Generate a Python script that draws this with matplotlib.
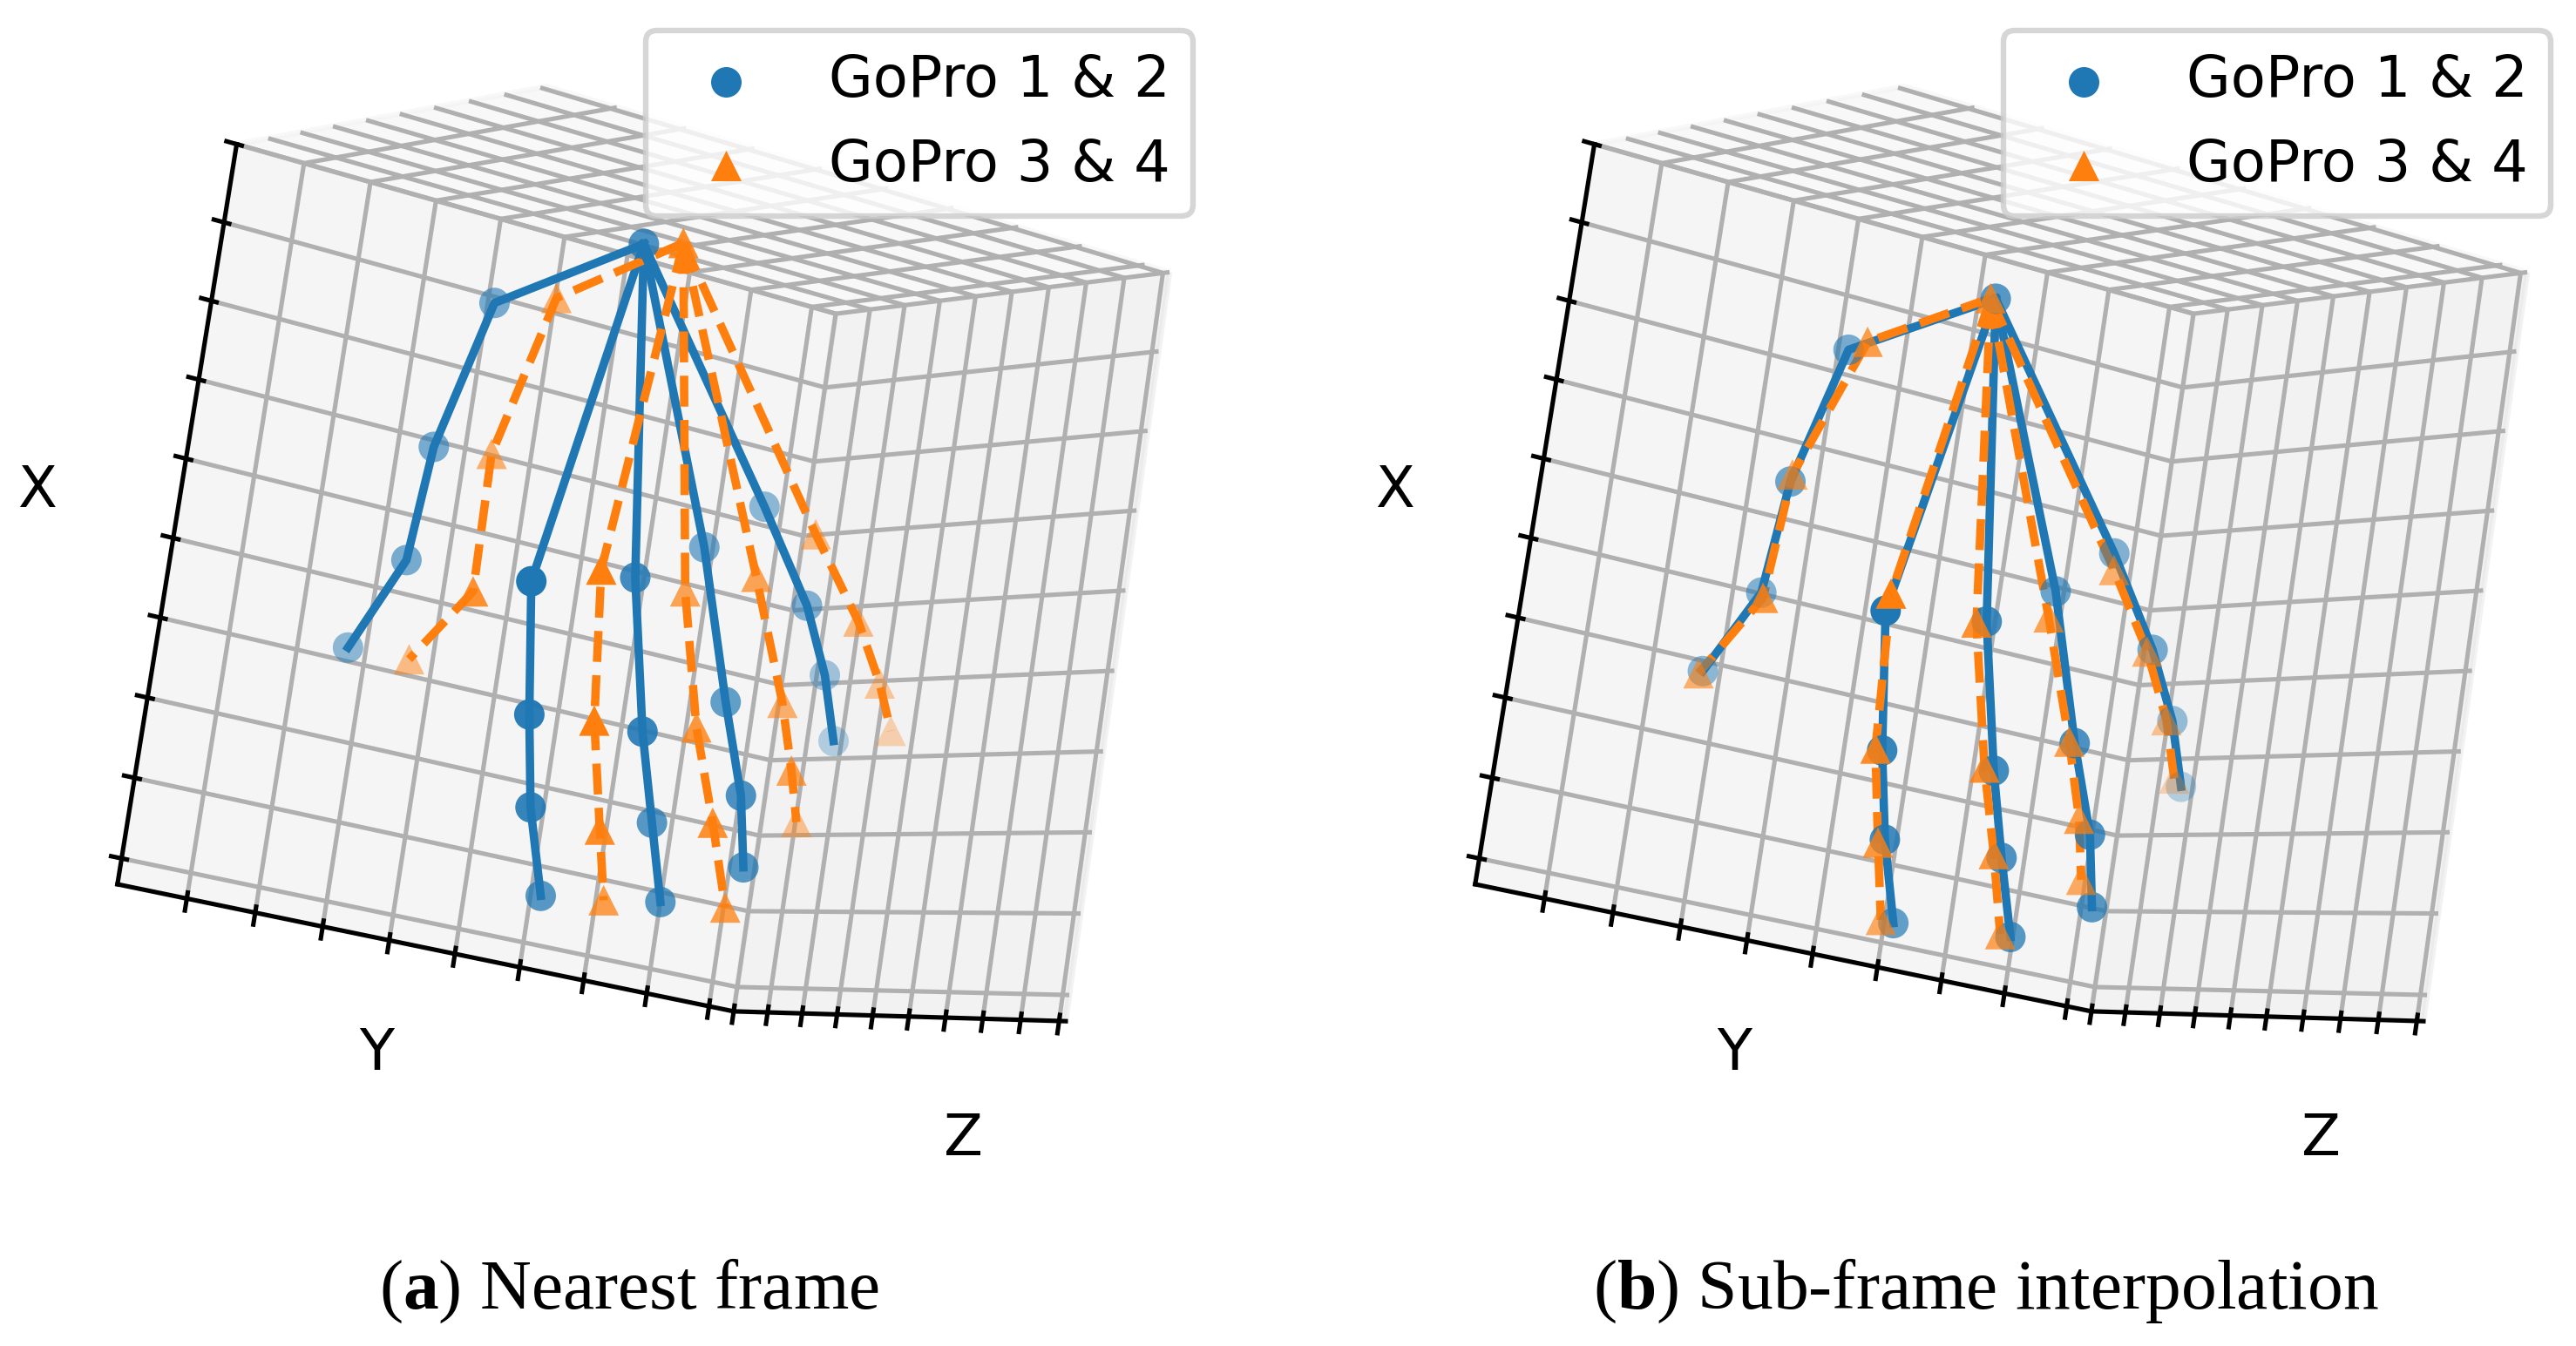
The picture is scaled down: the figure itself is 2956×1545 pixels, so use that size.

import numpy as np, matplotlib
matplotlib.use('Agg')
import matplotlib.pyplot as plt

W, H = 2956, 1545
plt.rcParams['mathtext.fontset'] = 'custom'
plt.rcParams['mathtext.rm'] = 'Liberation Serif'
plt.rcParams['mathtext.bf'] = 'Liberation Serif:bold'

# joints: wrist, then four joints each for thumb, index, middle, ring, pinky
a_blue_x = [0.83,1.60,3.44,4.85,5.94,5.18,6.71,7.77,8.72,4.84,6.68,7.65,8.58,4.16,6.05,7.20,8.02,3.48,4.64,5.34,6.06]
a_blue_y = [5.98,6.77,7.02,7.01,7.11,6.82,6.37,5.99,5.24,5.38,5.07,4.31,4.03,4.04,3.73,3.64,3.29,3.24,2.71,1.90,1.34]
a_blue_z = [3.54,6.07,6.71,7.03,8.20,3.61,4.00,4.33,5.16,3.54,3.29,4.12,4.09,4.32,3.66,3.02,3.32,4.31,3.70,4.42,4.94]
a_orange_x = [0.85,1.43,3.42,5.29,5.97,4.92,6.70,7.91,8.66,4.80,6.47,7.60,8.53,4.50,5.89,6.75,7.21,3.72,4.70,5.34,5.83]
a_orange_y = [5.87,6.16,6.42,6.95,6.46,6.16,5.86,5.25,4.60,4.41,4.25,4.00,3.37,3.74,2.86,2.90,1.97,2.65,2.00,1.32,0.78]
a_orange_z = [2.63,5.50,6.19,5.00,7.65,2.99,3.14,3.73,4.60,3.96,3.38,3.01,3.51,3.30,3.71,3.11,4.49,3.86,3.52,3.92,4.40]
b_blue_x = [1.44,2.17,3.90,5.21,6.23,5.53,7.11,8.13,9.03,5.37,7.12,8.11,9.01,4.74,6.62,7.68,8.51,4.10,5.23,5.95,6.64]
b_blue_y = [5.76,6.69,7.08,6.82,7.08,6.78,6.19,5.80,5.08,5.33,4.89,4.45,4.02,4.14,4.01,3.63,3.28,3.35,2.87,2.04,1.33]
b_blue_z = [3.91,6.13,6.45,7.37,8.24,3.66,4.35,4.67,5.51,3.63,3.66,3.93,4.18,4.12,3.20,3.12,3.43,4.13,3.56,4.26,5.06]
b_orange_x = [1.49,2.18,3.77,5.45,6.33,5.32,7.10,8.15,8.99,5.40,7.10,8.08,8.97,5.10,6.58,7.48,8.15,4.34,5.26,5.95,6.55]
b_orange_y = [5.95,6.93,6.94,7.47,7.39,6.77,6.26,5.72,5.07,5.43,4.99,4.54,3.98,4.29,3.92,3.63,3.16,3.46,2.92,2.10,1.42]
b_orange_z = [3.68,5.09,6.72,5.90,7.69,3.60,4.41,5.02,5.91,3.72,3.74,3.99,4.56,3.92,3.53,3.49,4.07,3.86,3.61,4.32,5.12]

fingers = [[0,1,2,3,4],[0,5,6,7,8],[0,9,10,11,12],[0,13,14,15,16],[0,17,18,19,20]]
x_ticks = [0,1,2,3,4,5,6,7,8,9]
y_ticks = [0.4,1.4,2.4,3.4,4.4,5.4,6.4,7.4,8.4]
z_ticks = [0.17,1.17,2.17,3.17,4.17,5.17,6.17,7.17,8.17,9.17]
labels = ['GoPro 1 & 2', 'GoPro 3 & 4']
captions = [r'($\mathbf{a}$) Nearest frame', r'($\mathbf{b}$) Sub-frame interpolation']

# axes box (px) recovered from the pane corners
S = 7337.0
TX, TY = 741.0, 882.8
PANEL_SHIFT = 1558
CAP_X = [722, 2279]

fig = plt.figure(figsize=(W/460, H/460), dpi=460)

panels = [
    ((a_blue_x,a_blue_y,a_blue_z),(a_orange_x,a_orange_y,a_orange_z)),
    ((b_blue_x,b_blue_y,b_blue_z),(b_orange_x,b_orange_y,b_orange_z)),
]
for i,(blue,orange) in enumerate(panels):
    off = i*PANEL_SHIFT
    ax = fig.add_axes([(TX-0.095*S+off)/W,(TY-0.095*S)/H,0.185*S/W,0.185*S/H],projection='3d')
    ax.set_xlim(0,9.32); ax.set_ylim(0,9.4); ax.set_zlim(0,9.17)
    ax.set_box_aspect((4,4,3))
    ax.view_init(-55.67,74.97,93.98)
    ax.set_xticks(x_ticks); ax.set_yticks(y_ticks); ax.set_zticks(z_ticks)
    ax.set_xticklabels([]); ax.set_yticklabels([]); ax.set_zticklabels([])
    ax.set_xlabel('X',labelpad=-4.3,fontsize=10.25)
    ax.set_ylabel('Y',labelpad=-4.9,fontsize=10.25)
    ax.set_zlabel('Z',labelpad=-5.0,fontsize=10.25)
    B = np.array(blue).T; O = np.array(orange).T
    for f in fingers:
        ax.plot(*B[f].T,color='C0',lw=1.5)
    for f in fingers:
        ax.plot(*O[f].T,color='C1',lw=1.5,ls='--')
    ax.scatter(*B.T,color='C0',marker='o',s=30,linewidths=0,label=labels[0])
    ax.scatter(*O.T,color='C1',marker='^',s=30,linewidths=0,label=labels[1])
    ax.legend(fontsize=10.25)
    fig.text(CAP_X[i]/W,1-1502/H,captions[i],family='Liberation Serif',fontsize=12.75,ha='center',va='baseline')
fig.savefig('out.png')
